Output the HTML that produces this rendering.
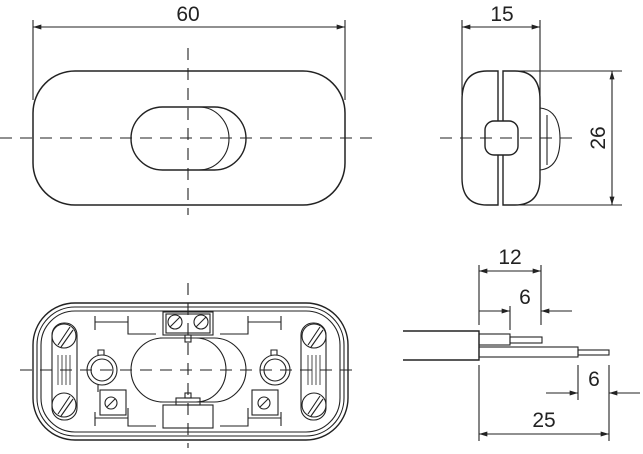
<!DOCTYPE html>
<html><head><meta charset="utf-8"><style>
html,body{margin:0;padding:0;background:#fff;}
svg{display:block}
text{font-family:"Liberation Sans",Arial,sans-serif;fill:#222}
</style></head><body>
<svg width="643" height="454" viewBox="0 0 643 454" xmlns="http://www.w3.org/2000/svg">
<defs>
<marker id="a" viewBox="0 0 10 6" refX="10" refY="3" markerWidth="14" markerHeight="5" orient="auto-start-reverse" markerUnits="userSpaceOnUse"><path d="M0,0L10,3L0,6z" fill="#222"/></marker>
</defs>
<g stroke="#222" stroke-width="1.1" fill="none">
<!-- TOP VIEW -->
<line x1="33" y1="20" x2="33" y2="100"/>
<line x1="345" y1="20" x2="345" y2="100"/>
<line x1="33" y1="27" x2="345" y2="27" marker-start="url(#a)" marker-end="url(#a)"/>
<rect x="33" y="71" width="312" height="134" rx="42" stroke-width="1.5"/>
<rect x="131" y="107" width="115" height="63" rx="31.5" stroke-width="1.4"/>
<path d="M186,107 H199 A30,31.5 0 0 1 199,170 H186"/>
<line x1="0" y1="138" x2="375" y2="138" stroke-dasharray="12,8"/>
<line x1="188" y1="48" x2="188" y2="215" stroke-dasharray="12,8"/>

<!-- SIDE VIEW -->
<line x1="462" y1="20" x2="462" y2="95"/>
<line x1="540" y1="20" x2="540" y2="110"/>
<line x1="462" y1="27" x2="540" y2="27" marker-start="url(#a)" marker-end="url(#a)"/>
<path d="M498,71 H487 Q462,71 462,100 V178 Q462,205 487,205 H498 Z" stroke-width="1.4"/>
<path d="M503,71 H515 Q540,71 540,100 V178 Q540,205 515,205 H503 Z" stroke-width="1.4"/>
<path d="M540,108 Q560,110 560,139 Q560,168 540,170"/>
<line x1="547" y1="115" x2="547" y2="165"/>
<rect x="485" y="121" width="33" height="34" rx="9" fill="#fff" stroke-width="1.4"/>
<line x1="505" y1="71" x2="622" y2="71"/>
<line x1="505" y1="205" x2="622" y2="205"/>
<line x1="612" y1="71" x2="612" y2="205" marker-start="url(#a)" marker-end="url(#a)"/>
<line x1="440" y1="138" x2="578" y2="138" stroke-dasharray="12,8"/>

<!-- BOTTOM VIEW -->
<rect x="33" y="303" width="315" height="137" rx="42" stroke-width="1.4"/>
<rect x="37" y="307" width="307" height="129" rx="38"/>
<rect x="41" y="311" width="299" height="121" rx="34"/>
<rect x="52" y="323" width="25" height="97" rx="12"/>
<rect x="301" y="323" width="25" height="97" rx="12"/>
<g stroke-width="0.8">
<line x1="58" y1="355" x2="58" y2="385"/><line x1="62" y1="355" x2="62" y2="385"/><line x1="66" y1="355" x2="66" y2="385"/><line x1="70" y1="355" x2="70" y2="385"/>
<line x1="308" y1="355" x2="308" y2="385"/><line x1="312" y1="355" x2="312" y2="385"/><line x1="316" y1="355" x2="316" y2="385"/><line x1="320" y1="355" x2="320" y2="385"/>
</g>
<circle cx="64" cy="336" r="12"/><line x1="58" y1="345" x2="70" y2="327"/><line x1="61" y1="347" x2="73" y2="330"/>
<circle cx="64" cy="405" r="12"/><line x1="58" y1="414" x2="70" y2="396"/><line x1="61" y1="416" x2="73" y2="399"/>
<circle cx="314" cy="336" r="12"/><line x1="308" y1="345" x2="320" y2="327"/><line x1="311" y1="347" x2="323" y2="330"/>
<circle cx="314" cy="405" r="12"/><line x1="308" y1="414" x2="320" y2="396"/><line x1="311" y1="416" x2="323" y2="399"/>
<path d="M95,316 V330 M95,322 H128 M128,316 V334 H156 M220,334 H248 V316 M248,322 H281 M281,316 V330"/>
<path d="M95,412 V426 M95,418 H128 M128,408 V426 H156 M220,426 H248 V408 M248,418 H281 M281,412 V426"/>
<rect x="163" y="312" width="50" height="23"/>
<rect x="166" y="314" width="44" height="19"/>
<circle cx="175" cy="322" r="7"/><circle cx="201" cy="322" r="7"/>
<line x1="170" y1="327" x2="180" y2="317"/><line x1="196" y1="327" x2="206" y2="317"/>
<rect x="185" y="335" width="6" height="7"/>
<rect x="163" y="405" width="50" height="23"/>
<rect x="176" y="398" width="24" height="7"/>
<rect x="185" y="393" width="6" height="5"/>
<rect x="131" y="338" width="115" height="64" rx="32"/>
<path d="M160,338 H196 A30,32 0 0 1 196,402 H160"/>
<circle cx="102" cy="370" r="15"/><circle cx="102" cy="370" r="11"/>
<circle cx="275" cy="370" r="15"/><circle cx="275" cy="370" r="11"/>
<path d="M98,355 V350 H104 V355 M98,385 V392"/>
<path d="M271,355 V350 H277 V355"/>
<rect x="100" y="390" width="26" height="25"/>
<circle cx="111" cy="403" r="6"/><line x1="107" y1="407" x2="115" y2="399"/>
<rect x="252" y="390" width="26" height="25"/>
<circle cx="264" cy="403" r="6"/><line x1="260" y1="407" x2="268" y2="399"/>
<line x1="20" y1="370" x2="355" y2="370" stroke-dasharray="12,8"/>
<line x1="188" y1="283" x2="188" y2="448" stroke-dasharray="12,8"/>

<!-- CABLE -->
<path d="M403,331 H479 V360 H403" stroke-width="1.4"/>
<rect x="479" y="334" width="31" height="11"/>
<rect x="510" y="337" width="32" height="6"/>
<rect x="479" y="347" width="99" height="10"/>
<rect x="578" y="350" width="31" height="5"/>
<line x1="479" y1="265" x2="479" y2="325"/>
<line x1="541" y1="265" x2="541" y2="325"/>
<line x1="510" y1="306" x2="510" y2="330"/>
<line x1="479" y1="271" x2="541" y2="271" marker-start="url(#a)" marker-end="url(#a)"/>
<line x1="479" y1="311" x2="510" y2="311" marker-end="url(#a)"/>
<line x1="572" y1="311" x2="541" y2="311" marker-end="url(#a)"/>
<line x1="479" y1="365" x2="479" y2="441"/>
<line x1="578" y1="365" x2="578" y2="400"/>
<line x1="609" y1="365" x2="609" y2="441"/>
<line x1="546" y1="393" x2="578" y2="393" marker-end="url(#a)"/>
<line x1="640" y1="393" x2="609" y2="393" marker-end="url(#a)"/>
<line x1="479" y1="434" x2="609" y2="434" marker-start="url(#a)" marker-end="url(#a)"/>
</g>
<text x="188" y="21" font-size="21" text-anchor="middle">60</text>
<text x="502" y="21" font-size="21" text-anchor="middle">15</text>
<text x="0" y="0" font-size="21" text-anchor="middle" transform="translate(605,138) rotate(-90)">26</text>
<text x="510" y="264" font-size="21" text-anchor="middle">12</text>
<text x="525" y="304" font-size="21" text-anchor="middle">6</text>
<text x="594" y="386" font-size="21" text-anchor="middle">6</text>
<text x="544" y="427" font-size="21" text-anchor="middle">25</text>
</svg>
</body></html>
